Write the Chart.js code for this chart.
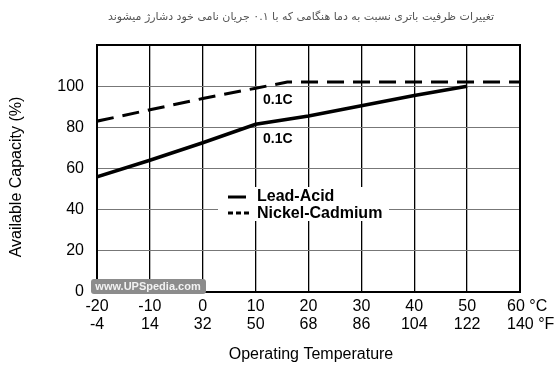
<!DOCTYPE html>
<html>
<head>
<meta charset="utf-8">
<script src="https://cdn.jsdelivr.net/npm/chart.js@4.4.0/dist/chart.umd.min.js"></script>
<style>
  html, body { margin: 0; padding: 0; background: #fff; }
</style>
</head>
<body>
<canvas id="capChart" width="556" height="367"></canvas>
<script>
// Chart data
const titleText = 'تغییرات ظرفیت باتری نسبت به دما هنگامی که با ۰.۱ جریان نامی خود دشارژ میشوند';
const tempC = [-20, -10, 0, 10, 20, 30, 40, 50, 60];
const tempF = [-4, 14, 32, 50, 68, 86, 104, 122, 140];
const capTicks = [0, 20, 40, 60, 80, 100];
const leadTemp = [-20, -10, 0, 10, 20, 30, 40, 50];
const leadCap = [56, 64, 72.5, 81.5, 85.5, 90.5, 95.5, 100];
const nicdTemp = [-20, -10, 0, 10, 16, 60];
const nicdCap = [83, 88.5, 94, 99, 102, 102];
const seriesNames = ['Lead-Acid', 'Nickel-Cadmium'];
const rateLabel = '0.1C';
const xTitle = 'Operating Temperature';
const yTitle = 'Available Capacity (%)';

const FONT = "'Liberation Sans', Arial, Helvetica, sans-serif";
Chart.defaults.font.family = FONT;
Chart.defaults.color = '#000';

function toPoints(xs, ys) {
    return xs.map((x, i) => ({ x: x, y: ys[i] }));
}

// Titles, frame, legend box, rate notes, last tick label and watermark
const extras = {
    id: 'extras',
    beforeDatasetsDraw(chart) {
        const ctx = chart.ctx;
        const a = chart.chartArea;
        ctx.save();
        ctx.strokeStyle = '#000';
        ctx.lineWidth = 2;
        ctx.strokeRect(a.left, a.top, a.right - a.left, a.bottom - a.top);
        ctx.restore();
    },
    afterDraw(chart) {
        const ctx = chart.ctx;
        const xs = chart.scales.x;
        const ys = chart.scales.y;
        ctx.save();

        // top title (Persian)
        ctx.fillStyle = '#555';
        ctx.font = '11px Tahoma, "DejaVu Sans", sans-serif';
        ctx.textAlign = 'center';
        ctx.textBaseline = 'middle';
        ctx.direction = 'rtl';
        ctx.fillText(titleText, 301, 17);
        ctx.direction = 'ltr';

        // axis titles
        ctx.fillStyle = '#000';
        ctx.font = '16px ' + FONT;
        ctx.fillText(xTitle, 311, 355);
        ctx.save();
        ctx.translate(17, 177);
        ctx.rotate(-Math.PI / 2);
        ctx.fillText(yTitle, 0, 0);
        ctx.restore();

        // legend inside the plot
        ctx.fillStyle = '#fff';
        ctx.fillRect(218, 187, 171, 34);
        ctx.strokeStyle = '#000';
        ctx.lineWidth = 3;
        ctx.beginPath();
        ctx.moveTo(228, 197);
        ctx.lineTo(246, 197);
        ctx.stroke();
        ctx.setLineDash([5, 3]);
        ctx.beginPath();
        ctx.moveTo(228, 213);
        ctx.lineTo(250, 213);
        ctx.stroke();
        ctx.setLineDash([]);
        ctx.fillStyle = '#000';
        ctx.font = 'bold 16px ' + FONT;
        ctx.textAlign = 'left';
        ctx.fillText(seriesNames[0], 257, 197);
        ctx.fillText(seriesNames[1], 257, 214);

        // 0.1C notes
        ctx.font = 'bold 14px ' + FONT;
        ctx.fillText(rateLabel, xs.getPixelForValue(11.4), ys.getPixelForValue(93));
        ctx.fillText(rateLabel, xs.getPixelForValue(11.4), ys.getPixelForValue(74.3));

        // last x tick label with units
        const last = tempC.length - 1;
        const lx = xs.getPixelForValue(tempC[last]) - 13;
        ctx.font = '16px ' + FONT;
        ctx.fillText(tempC[last] + ' °C', lx, xs.top + 6 + 8.8);
        ctx.fillText(tempF[last] + ' °F', lx, xs.top + 6 + 8.8 + 17.6);

        // watermark
        ctx.fillStyle = '#8c8c8c';
        ctx.beginPath();
        ctx.roundRect(91, 279, 115, 15, 3);
        ctx.fill();
        ctx.fillStyle = '#f2f2f2';
        ctx.font = 'bold 11px ' + FONT;
        ctx.textAlign = 'center';
        ctx.fillText('www.UPSpedia.com', 148, 287);
        ctx.restore();
    }
};

const ctx = document.getElementById('capChart').getContext('2d');
const chart = new Chart(ctx, {
    type: 'line',
    data: {
        datasets: [{
            label: seriesNames[0],
            data: toPoints(leadTemp, leadCap),
            borderColor: '#000',
            borderWidth: 3.5,
            pointRadius: 0,
            tension: 0
        }, {
            label: seriesNames[1],
            data: toPoints(nicdTemp, nicdCap),
            borderColor: '#000',
            borderWidth: 3,
            borderDash: [17, 9],
            pointRadius: 0,
            tension: 0
        }]
    },
    options: {
        responsive: false,
        animation: false,
        layout: { padding: { left: 0, right: 36, top: 45, bottom: 0 } },
        plugins: {
            legend: { display: false },
            tooltip: { enabled: false },
            title: { display: false }
        },
        scales: {
            x: {
                type: 'linear',
                min: tempC[0],
                max: tempC[tempC.length - 1],
                afterFit: (scale) => { scale.height = 75; },
                ticks: {
                    stepSize: 10,
                    autoSkip: false,
                    maxRotation: 0,
                    padding: 6,
                    font: { size: 16, lineHeight: 1.1 },
                    callback: function(value) {
                        const i = tempC.indexOf(value);
                        if (i < 0 || i === tempC.length - 1) return ['', ''];
                        return [String(tempC[i]), String(tempF[i])];
                    }
                },
                grid: { color: '#000', lineWidth: 1.3, drawTicks: false },
                border: { color: '#000', width: 2 }
            },
            y: {
                min: 0,
                max: 120,
                afterFit: (scale) => { scale.width = 97; },
                ticks: {
                    stepSize: 20,
                    padding: 13,
                    font: { size: 16 },
                    callback: (value) => capTicks.includes(value) ? String(value) : ''
                },
                grid: { color: '#777', lineWidth: 1, borderDash: [1, 1], drawTicks: false },
                border: { color: '#000', width: 2 }
            }
        }
    },
    plugins: [extras]
});
</script>
</body>
</html>
